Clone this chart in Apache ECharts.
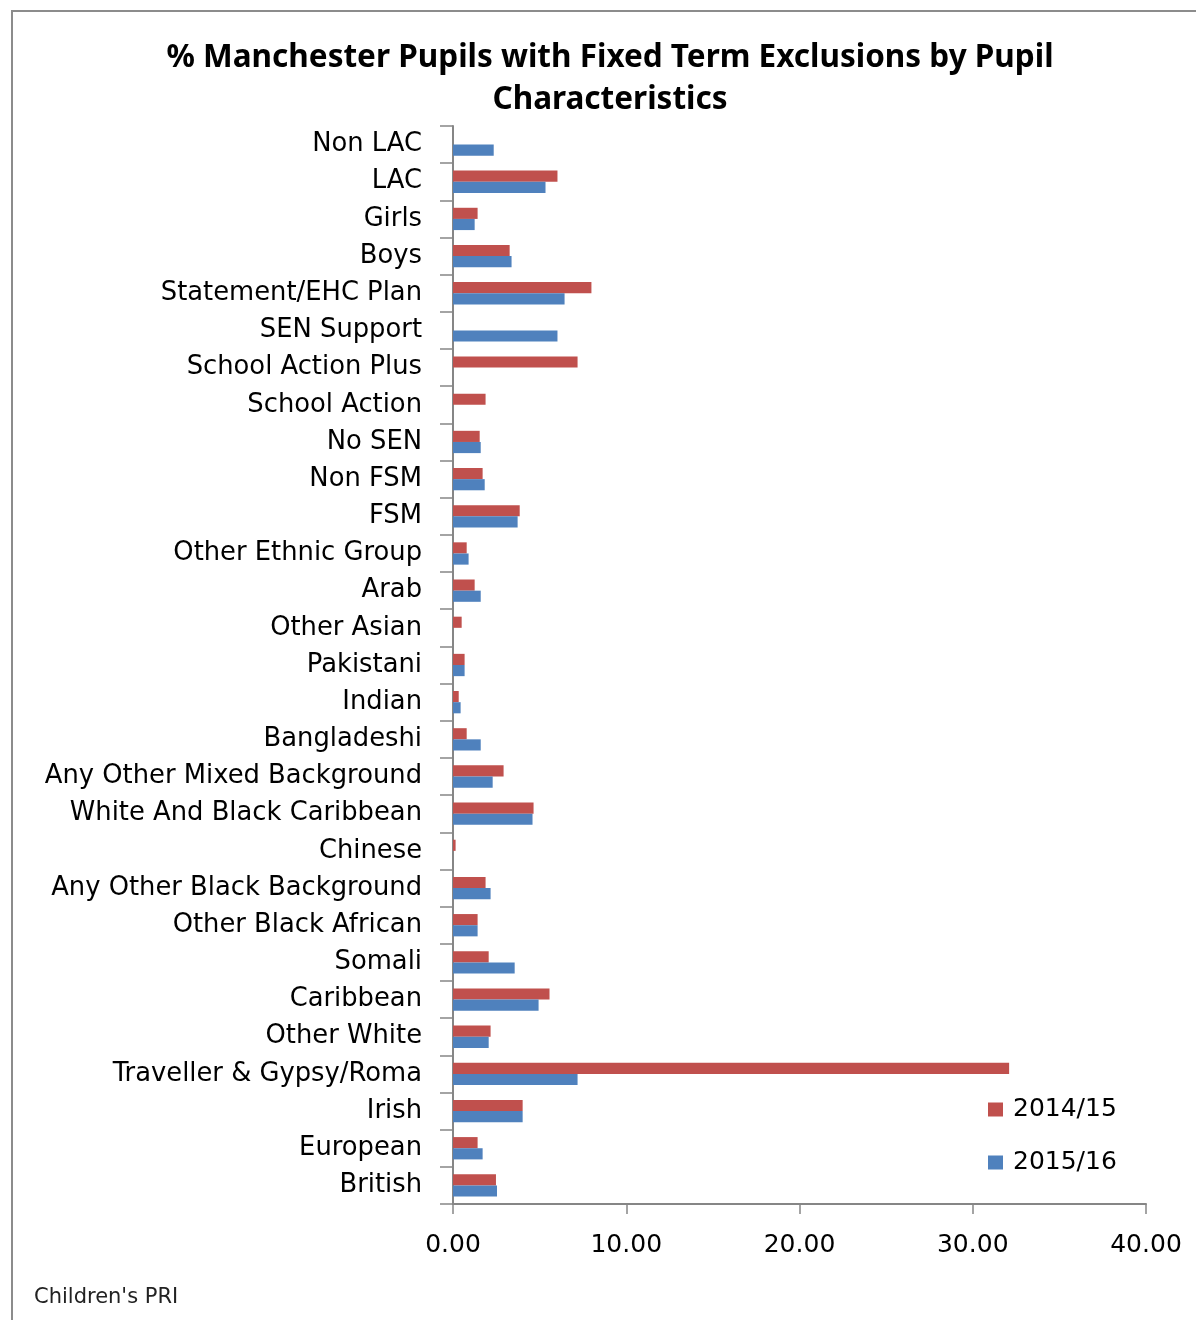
<!DOCTYPE html>
<html>
<head>
<meta charset="utf-8">
<title>Fixed Term Exclusions</title>
<script src="https://cdn.jsdelivr.net/npm/echarts@6/dist/echarts.min.js"></script>
<style>
  html, body { margin: 0; padding: 0; background: #fff; }
  #chart { width: 1196px; height: 1320px; }
</style>
</head>
<body>
<div id="chart"></div>
<script>
// Pupil characteristics, listed top to bottom as drawn
const categories = [
  'Non LAC', 'LAC', 'Girls', 'Boys', 'Statement/EHC Plan', 'SEN Support',
  'School Action Plus', 'School Action', 'No SEN', 'Non FSM', 'FSM',
  'Other Ethnic Group', 'Arab', 'Other Asian', 'Pakistani', 'Indian',
  'Bangladeshi', 'Any Other Mixed Background', 'White And Black Caribbean',
  'Chinese', 'Any Other Black Background', 'Other Black African', 'Somali',
  'Caribbean', 'Other White', 'Traveller & Gypsy/Roma', 'Irish', 'European', 'British'
];

// % of pupils with a fixed term exclusion, 2014/15 (null = not reported)
const values2014 = [
  null, 6.03, 1.42, 3.27, 7.99, null,
  7.19, 1.88, 1.54, 1.71, 3.85,
  0.79, 1.25, 0.50, 0.67, 0.33,
  0.79, 2.92, 4.65,
  0.15, 1.88, 1.42, 2.06,
  5.57, 2.17, 32.10, 4.02, 1.42, 2.48
];

// % of pupils with a fixed term exclusion, 2015/16 (null = not reported)
const values2016 = [
  2.35, 5.34, 1.25, 3.38, 6.44, 6.03,
  null, null, 1.60, 1.83, 3.73,
  0.90, 1.60, null, 0.67, 0.44,
  1.60, 2.29, 4.59,
  null, 2.17, 1.42, 3.56,
  4.94, 2.06, 7.19, 4.02, 1.71, 2.54
];

const seriesNames = ['2014/15', '2015/16'];
const xTicks = { min: 0, max: 40, step: 10 };

const FONT = 'DejaVu Sans';
const AXIS_GREY = '#868686';

const chart = echarts.init(document.getElementById('chart'), null, { renderer: 'canvas' });

chart.setOption({
  animation: false,
  backgroundColor: '#ffffff',
  title: {
    text: '% Manchester Pupils with Fixed Term Exclusions by Pupil\nCharacteristics',
    left: 605,
    textAlign: 'center',
    top: 32,
    textStyle: {
      fontFamily: 'Noto Sans',
      fontWeight: 'bold',
      fontSize: 31.5,
      lineHeight: 42,
      color: '#000000'
    }
  },
  legend: {
    orient: 'vertical',
    left: 988,
    top: 1097,
    padding: 0,
    itemWidth: 15,
    itemHeight: 14,
    itemGap: 28,
    icon: 'rect',
    data: seriesNames,
    textStyle: {
      fontFamily: FONT,
      fontSize: 25,
      color: '#000000',
      padding: [0, 0, 0, 5]
    }
  },
  grid: {
    left: 453,
    right: 50,
    top: 126,
    bottom: 116,
    containLabel: false
  },
  xAxis: {
    type: 'value',
    min: xTicks.min,
    max: xTicks.max,
    interval: xTicks.step,
    axisLine: { show: true, lineStyle: { color: AXIS_GREY, width: 2 } },
    axisTick: { show: true, length: 10, lineStyle: { color: AXIS_GREY, width: 1.5 } },
    splitLine: { show: false },
    axisLabel: {
      margin: 29,
      fontFamily: FONT,
      fontSize: 25,
      color: '#000000',
      formatter: v => v.toFixed(2)
    }
  },
  yAxis: {
    type: 'category',
    inverse: true,
    data: categories,
    axisLine: { show: true, lineStyle: { color: AXIS_GREY, width: 2 } },
    axisTick: { show: true, length: 13, lineStyle: { color: AXIS_GREY, width: 1.5 } },
    splitLine: { show: false },
    axisLabel: {
      margin: 31,
      fontFamily: FONT,
      fontSize: 25.8,
      color: '#000000',
      padding: [4, 0, 0, 0]
    }
  },
  series: [
    {
      name: seriesNames[0],
      type: 'bar',
      data: values2014,
      barGap: '0%',
      barCategoryGap: '40%',
      itemStyle: { color: '#c0504d' }
    },
    {
      name: seriesNames[1],
      type: 'bar',
      data: values2016,
      barGap: '0%',
      barCategoryGap: '40%',
      itemStyle: { color: '#4f81bd' }
    }
  ],
  graphic: [
    {
      type: 'rect',
      shape: { x: 12, y: 11, width: 1300, height: 1400 },
      style: { fill: 'none', stroke: '#8c8c8c', lineWidth: 2 },
      silent: true
    },
    {
      type: 'text',
      left: 34,
      top: 1287,
      style: {
        text: "Children's PRI",
        font: '21px "DejaVu Sans"',
        fill: '#222222'
      },
      silent: true
    }
  ]
});
</script>
</body>
</html>
